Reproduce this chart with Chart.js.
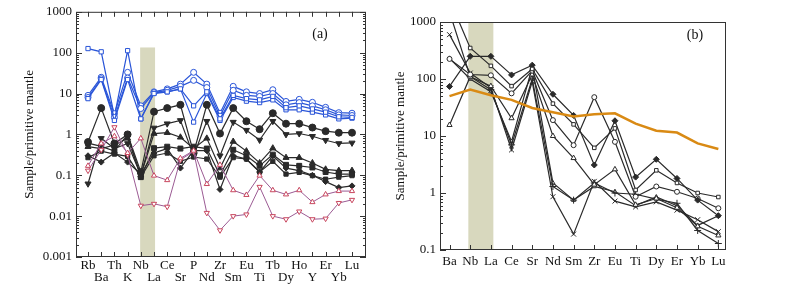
<!DOCTYPE html>
<html>
<head>
<meta charset="utf-8">
<script src="https://cdn.jsdelivr.net/npm/chart.js@4.4.1/dist/chart.umd.min.js"></script>
<style>
  html, body { margin: 0; padding: 0; background: #fff; }
  #chartA { position: absolute; left: 0; top: 0; }
  #chartB { position: absolute; left: 385px; top: 0; }
</style>
</head>
<body>
<canvas id="chartA" width="375" height="284"></canvas>
<canvas id="chartB" width="415" height="284"></canvas>
<script>
// ---- panel (a) data ----
const elementsA = ['Rb','Ba','Th','K','Nb','La','Ce','Sr','P','Nd','Zr','Sm','Eu','Ti','Tb','Dy','Ho','Y','Er','Yb','Lu'];
const yTicksA = [0.001, 0.01, 0.1, 1, 10, 100, 1000];

const a_blueSquare1 = [126,105,2.8,112,2.4,10.5,11,13,2.0,10,2.2,8,6.5,6,7,4,4,3.5,3,2.4,2.5];
const a_blueCircle1 = [9,25,3.2,33,5,11,13,17,33,17,3.3,15,11,10,12.4,6.4,7.2,6.1,4.6,3.4,3.3];
const a_blueCircle2 = [8,23,2.6,24,4.3,10.5,12,15,21,14,2.8,12,9,8.5,10,5.3,6,5,4,3,2.9];
const a_blueSquare2 = [7.5,22,2.2,22,2.4,10,11,13,5,11,2.4,9,7.5,7,8.5,4.5,5,4.2,3.5,2.7,2.6];

const a_blackCircle  = [0.65,4.4,0.6,1.0,0.12,3.6,4.4,5.3,0.35,5.3,1.05,4.4,2.1,1.34,3.3,1.83,1.83,1.47,1.2,1.1,1.1];
const a_blackDown    = [0.062,0.8,0.45,0.6,0.1,1.44,1.83,2.2,0.3,2.1,0.3,2.0,1.27,0.73,2.1,1.0,1.05,0.9,0.72,0.6,0.62];
const a_blackUp      = [0.5,0.45,0.55,0.8,0.1,1.05,1.1,0.85,0.45,0.8,0.15,0.67,0.39,0.2,0.46,0.27,0.27,0.2,0.14,0.13,0.13];
const a_blackSquare1 = [0.61,0.51,0.39,1.0,0.09,0.46,0.5,0.45,0.5,0.45,0.1,0.42,0.3,0.17,0.32,0.18,0.17,0.155,0.12,0.107,0.107];
const a_blackSquare2 = [0.27,0.39,0.33,0.29,0.09,0.3,0.35,0.22,0.28,0.25,0.09,0.27,0.25,0.12,0.22,0.107,0.118,0.098,0.08,0.09,0.098];
const a_blackDiamond = [0.3,0.21,0.35,0.21,0.107,0.35,0.45,0.15,0.4,0.4,0.045,0.3,0.25,0.12,0.3,0.15,0.13,0.1,0.07,0.05,0.055];

const a_purpleUp   = [0.17,0.6,0.9,0.35,0.8,0.098,0.076,0.26,0.4,0.061,0.18,0.043,0.033,0.098,0.043,0.034,0.043,0.022,0.034,0.041,0.041];
const a_purpleDown = [0.13,0.42,1.5,0.32,0.018,0.02,0.017,0.24,0.38,0.012,0.0045,0.01,0.011,0.052,0.01,0.0084,0.013,0.0084,0.0087,0.021,0.025];

// ---- panel (b) data ----
const elementsB = ['Ba','Nb','La','Ce','Sr','Nd','Sm','Zr','Eu','Ti','Dy','Er','Yb','Lu'];
const yTicksB = [0.1, 1, 10, 100, 1000];

const b_square    = [2500,350,170,75,150,37,16,6.2,13.6,1.13,2.5,1.5,1.0,0.85];
const b_diamond   = [74,250,250,118,175,54,23,3.1,18.5,1.9,3.9,1.8,0.75,0.40];
const b_circle    = [225,120,116,56,140,19,6.9,48,7.9,0.86,1.3,1.05,0.8,0.54];
const b_triangle  = [15.6,110,75,20.5,120,10,4.1,1.4,2.6,0.62,0.8,0.55,0.26,0.18];
const b_cross     = [600,127,70,5.7,90,0.86,0.19,1.6,0.72,0.57,0.7,0.5,0.34,0.21];
const b_plus      = [1500,110,65,7,100,1.3,0.75,1.5,1.0,0.95,0.78,0.66,0.22,0.13];
const b_triangle2 = [230,100,60,8,160,1.5,0.75,1.3,1.05,0.6,0.85,0.6,0.27,0.4];
const b_orange    = [50,65,52,43,31,26,22,24,25,16.5,12.4,11.5,7.4,5.9];

// shaded Nb anomaly bands (x in element index units, top in y units)
const bandA = { from: 3.95, to: 5.08, top: 134 };
const bandB = { from: 0.91, to: 2.12, top: 1000 };

Chart.defaults.font.family = '"Liberation Serif", "Times New Roman", serif';
Chart.defaults.font.size = 13;
Chart.defaults.color = '#111';

const toXY = arr => arr.map((v, i) => ({ x: i, y: v }));

function series(arr, color, style, filled, opts = {}) {
  return Object.assign({
    data: toXY(arr),
    borderColor: color,
    borderWidth: 1.2,
    pointStyle: style,
    pointRadius: 3,
    pointBorderWidth: 1,
    pointBorderColor: color,
    pointBackgroundColor: filled ? color : '#fff',
    tension: 0,
    fill: false
  }, opts);
}

const frameTicks = {
  id: 'frameTicks',
  beforeDatasetsDraw(chart, args, opts) {
    const { ctx, chartArea: a, scales: { x, y } } = chart;
    const b = opts.band;
    const x0 = x.getPixelForValue(b.from), x1 = x.getPixelForValue(b.to);
    const yt = Math.max(a.top, y.getPixelForValue(b.top));
    ctx.save();
    ctx.fillStyle = '#d8d8be';
    ctx.fillRect(x0, yt, x1 - x0, a.bottom - yt);
    ctx.restore();
  },
  afterDatasetsDraw(chart, args, opts) {
    const { ctx, chartArea: a, scales: { x, y } } = chart;
    ctx.save();
    ctx.strokeStyle = '#333';
    ctx.lineWidth = 1;
    ctx.strokeRect(a.left + 0.5, a.top + 0.5, a.width - 1, a.height - 1);
    ctx.beginPath();
    const lo = Math.round(Math.log10(y.min)), hi = Math.round(Math.log10(y.max));
    for (let e = lo; e <= hi; e++) {
      for (let m = 1; m <= 9; m++) {
        if (e === hi && m > 1) break;
        const py = Math.round(y.getPixelForValue(m * Math.pow(10, e))) + 0.5;
        const len = m === 1 ? 6 : 3;
        ctx.moveTo(a.left, py); ctx.lineTo(a.left + len, py);
        if (opts.right) { ctx.moveTo(a.right, py); ctx.lineTo(a.right - len, py); }
      }
    }
    x.ticks.forEach(t => {
      const px = Math.round(x.getPixelForValue(t.value)) + 0.5;
      ctx.moveTo(px, a.bottom); ctx.lineTo(px, a.bottom - 5);
      if (opts.top) { ctx.moveTo(px, a.top); ctx.lineTo(px, a.top + 5); }
    });
    ctx.stroke();
    ctx.font = '14px "Liberation Serif"';
    ctx.fillStyle = '#111';
    ctx.textAlign = 'center';
    ctx.textBaseline = 'middle';
    ctx.fillText(opts.tag, a.right + opts.tagDx, a.top + opts.tagDy);
    ctx.restore();
  }
};

function buildOptions(cfg) {
  return {
    responsive: false,
    animation: false,
    layout: { padding: cfg.padding },
    plugins: {
      legend: { display: false },
      tooltip: { enabled: false },
      frameTicks: cfg.frame
    },
    scales: {
      x: {
        type: 'linear',
        min: cfg.xMin,
        max: cfg.xMax,
        grid: { display: false, drawTicks: false },
        border: { display: false },
        afterBuildTicks: s => { s.ticks = cfg.labels.map((_, i) => ({ value: i })); },
        afterFit: s => { s.height = cfg.xHeight; },
        ticks: {
          autoSkip: false,
          maxRotation: 0,
          padding: cfg.xPad,
          font: { size: 13, lineHeight: 0.96 },
          callback: v => cfg.stagger && v % 2 ? ['', cfg.labels[v]] : cfg.labels[v]
        }
      },
      y: {
        type: 'logarithmic',
        min: cfg.yTicks[0],
        max: cfg.yTicks[cfg.yTicks.length - 1],
        grid: { display: false, drawTicks: false },
        border: { display: false },
        afterBuildTicks: s => { s.ticks = cfg.yTicks.map(v => ({ value: v })); },
        afterFit: s => { s.width = cfg.yWidth; },
        title: {
          display: true,
          text: 'Sample/primitive mantle',
          font: { size: 13 },
          padding: { top: cfg.titlePad, bottom: 0 }
        },
        ticks: {
          autoSkip: false,
          padding: 4,
          callback: v => String(v)
        }
      }
    }
  };
}

const black = '#2a2a2a', blue = '#2a55d8', purple = '#9b5a93', pink = '#c8465e';

new Chart(document.getElementById('chartA'), {
  type: 'line',
  data: {
    datasets: [
      series(a_purpleUp, purple, 'triangle', false, { pointBorderColor: pink, borderWidth: 1 }),
      series(a_purpleDown, purple, 'triangle', false, { pointBorderColor: pink, borderWidth: 1, pointRotation: 180 }),
      series(a_blackSquare2, black, 'rect', true),
      series(a_blackDiamond, black, 'rectRot', true),
      series(a_blackSquare1, black, 'rect', true, { pointRadius: 3.5 }),
      series(a_blackUp, black, 'triangle', true, { pointRadius: 3.5 }),
      series(a_blackDown, black, 'triangle', true, { pointRadius: 3.5, pointRotation: 180 }),
      series(a_blackCircle, black, 'circle', true, { pointRadius: 3.5 }),
      series(a_blueSquare2, blue, 'rect', false),
      series(a_blueCircle2, blue, 'circle', false),
      series(a_blueCircle1, blue, 'circle', false),
      series(a_blueSquare1, blue, 'rect', false)
    ]
  },
  options: buildOptions({
    padding: { top: 5, right: 9, left: 0, bottom: 0 },
    labels: elementsA, stagger: true,
    xMin: -0.91, xMax: 21.06, xHeight: 27, xPad: 2,
    yTicks: yTicksA, yWidth: 76, titlePad: 22,
    frame: { band: bandA, right: true, top: true, tag: '(a)', tagDx: -46, tagDy: 23 }
  }),
  plugins: [frameTicks]
});

new Chart(document.getElementById('chartB'), {
  type: 'line',
  data: {
    datasets: [
      series(b_orange, '#d98a14', false, false, { borderWidth: 2.5, pointRadius: 0 }),
      series(b_square, black, 'rect', false, { pointRadius: 2.5 }),
      series(b_diamond, black, 'rectRot', true, { pointRadius: 3 }),
      series(b_circle, black, 'circle', false, { pointRadius: 2.5 }),
      series(b_triangle, black, 'triangle', false, { pointRadius: 3 }),
      series(b_cross, black, 'crossRot', false, { pointRadius: 3.5 }),
      series(b_plus, black, 'cross', false, { pointRadius: 3.5 }),
      series(b_triangle2, black, 'triangle', false, { pointRadius: 2.5 })
    ]
  },
  options: buildOptions({
    padding: { top: 22, right: 74, left: 0, bottom: 0 },
    labels: elementsB, stagger: false,
    xMin: -0.46, xMax: 13.37, xHeight: 34, xPad: 5,
    yTicks: yTicksB, yWidth: 55, titlePad: 8,
    frame: { band: bandB, right: false, top: false, tag: '(b)', tagDx: -31, tagDy: 13 }
  }),
  plugins: [frameTicks]
});
</script>
</body>
</html>
